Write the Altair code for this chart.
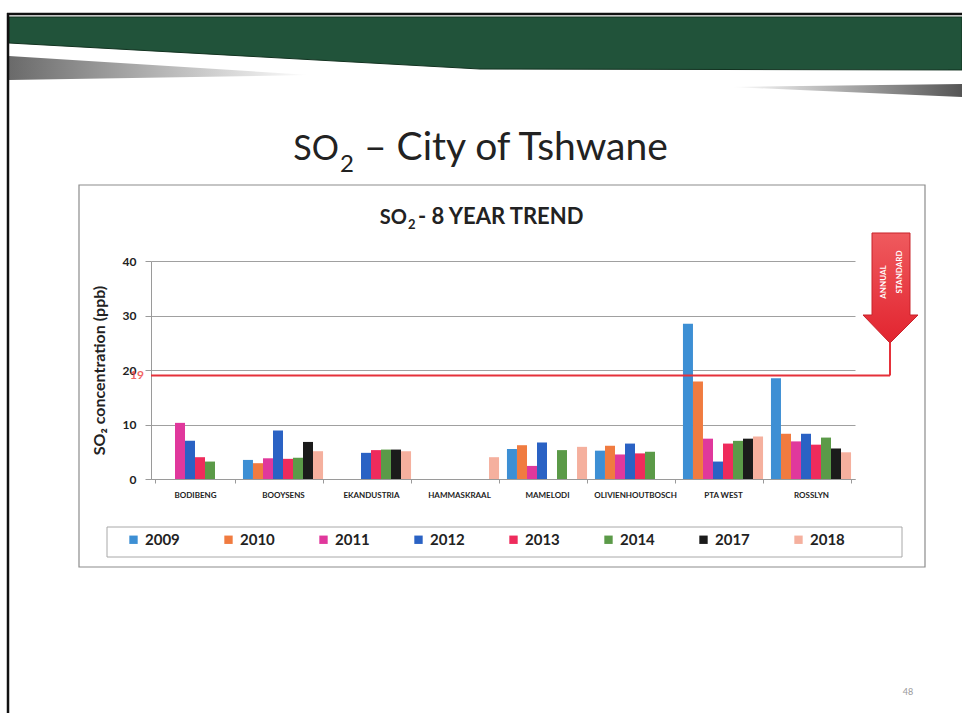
import altair as alt
import pandas as pd

# Monitoring stations and years
locations = ["BODIBENG", "BOOYSENS", "EKANDUSTRIA", "HAMMASKRAAL",
             "MAMELODI", "OLIVIENHOUTBOSCH", "PTA WEST", "ROSSLYN"]
years = ["2009", "2010", "2011", "2012", "2013", "2014", "2017", "2018"]

# Annual mean SO2 (ppb) per station; None = no data for that year
so2_2009 = [None, 3.5, None, None, 5.5, 5.2, 28.5, 18.5]
so2_2010 = [None, 2.9, None, None, 6.2, 6.1, 17.9, 8.3]
so2_2011 = [10.3, 3.8, None, None, 2.4, 4.5, 7.4, 6.9]
so2_2012 = [7.0, 8.9, 4.8, None, 6.7, 6.5, 3.2, 8.3]
so2_2013 = [4.0, 3.7, 5.3, None, None, 4.7, 6.5, 6.3]
so2_2014 = [3.2, 3.9, 5.4, None, 5.3, 5.0, 7.0, 7.6]
so2_2017 = [None, 6.8, 5.4, None, None, None, 7.4, 5.6]
so2_2018 = [None, 5.1, 5.1, 4.0, 5.9, None, 7.8, 4.9]

annual_standard = 19

year_colors = ["#3d8fd4", "#f07b40", "#e0389c", "#2a62c4",
               "#ee2b5c", "#5b9a48", "#1b1b1b", "#f5b09e"]

series = [so2_2009, so2_2010, so2_2011, so2_2012,
          so2_2013, so2_2014, so2_2017, so2_2018]
rows = []
for yr, vals in zip(years, series):
    for loc, v in zip(locations, vals):
        if v is not None:
            rows.append({"Location": loc, "Year": yr, "SO2": v})
df = pd.DataFrame(rows)
one = pd.DataFrame({"k": [0]})

FONT = "Lato"
# plot-area origin on the page
OX, OY = 151, 261


def px(x):
    return x - OX


def py(y):
    return y - OY


def shape(path_pts, cx, cy, half):
    pts = ["%s%.4f,%.4f" % ("M" if i == 0 else "L", (x - cx) / half, (y - cy) / half)
           for i, (x, y) in enumerate(path_pts)]
    return "".join(pts) + "Z"


def deco_shape(pts, cx, cy, half, **kw):
    return alt.Chart(one).mark_point(
        shape=shape(pts, cx, cy, half), size=(2 * half) ** 2,
        filled=True, opacity=1, **kw
    ).encode(x=alt.value(px(cx)), y=alt.value(py(cy)))


def label(text, x, y, **kw):
    return alt.Chart(one).mark_text(text=text, font=FONT, **kw).encode(
        x=alt.value(px(x)), y=alt.value(py(y)))


# --- slide furniture ---
green_band = deco_shape([(9, 17), (962, 17), (962, 70), (480, 69), (9, 43)],
                        485, 42, 480, fill="#21533a", stroke="#123220", strokeWidth=1)
swoosh_left = deco_shape([(9, 56), (310, 75), (9, 80)], 160, 68, 160,
                         fill=alt.LinearGradient(gradient="linear", x1=0, x2=1, y1=0, y2=0,
                                                 stops=[alt.GradientStop(color="#6a6a6a", offset=0),
                                                        alt.GradientStop(color="#ffffff", offset=1)]))
swoosh_right = deco_shape([(730, 87), (962, 84), (962, 97), (800, 90)], 846, 90, 116,
                          fill=alt.LinearGradient(gradient="linear", x1=0, x2=1, y1=0, y2=0,
                                                  stops=[alt.GradientStop(color="#ffffff", offset=0),
                                                         alt.GradientStop(color="#555555", offset=1)]))
top_line = alt.Chart(one).mark_rule(color="#111111", strokeWidth=2.5).encode(
    x=alt.value(px(7)), x2=alt.value(px(962)), y=alt.value(py(14)))
left_line = alt.Chart(one).mark_rule(color="#111111", strokeWidth=2.5).encode(
    x=alt.value(px(8)), y=alt.value(py(13)), y2=alt.value(py(713)))

chart_frame = alt.Chart(one).mark_rect(fill="transparent", stroke="#8c8c8c", strokeWidth=1.2).encode(
    x=alt.value(px(79)), x2=alt.value(px(925)), y=alt.value(py(185)), y2=alt.value(py(567)))
legend_frame = alt.Chart(one).mark_rect(fill="transparent", stroke="#a8a8a8", strokeWidth=1).encode(
    x=alt.value(px(107)), x2=alt.value(px(902)), y=alt.value(py(527)), y2=alt.value(py(557)))

# slide title with subscript
title_parts = [
    label("SO", 339, 160, fontSize=34, align="right", baseline="alphabetic", color="#222222"),
    label("2", 340, 172, fontSize=24, align="left", baseline="alphabetic", color="#222222"),
    label("\u2013 City of Tshwane", 364, 160, fontSize=39, align="left",
          baseline="alphabetic", color="#222222"),
]
# chart title with subscript
chart_title_parts = [
    label("SO", 407, 224, fontSize=20, fontWeight="bold", align="right",
          baseline="alphabetic", color="#222222"),
    label("2", 408, 229, fontSize=13, fontWeight="bold", align="left",
          baseline="alphabetic", color="#222222"),
    label("- 8 YEAR TREND", 418, 224, fontSize=22, fontWeight="bold", align="left",
          baseline="alphabetic", color="#222222"),
]
page_no = label("48", 908, 692, fontSize=9, color="#9a9a9a")

# --- data marks ---
bars = alt.Chart(df).mark_bar().encode(
    x=alt.X("Location:N", sort=locations,
            scale=alt.Scale(paddingInner=0.09, paddingOuter=0.045),
            axis=alt.Axis(title=None, labelAngle=0, labelFont=FONT, labelFontSize=8,
                          labelFontWeight="bold", labelColor="#222222", labelPadding=8,
                          domainColor="#9a9a9a", tickColor="#9a9a9a", tickSize=4,
                          tickBand="extent", grid=False)),
    xOffset=alt.XOffset("Year:N", sort=years, scale=alt.Scale(paddingInner=0, paddingOuter=0)),
    y=alt.Y("SO2:Q", scale=alt.Scale(domain=[0, 40], nice=False),
            axis=alt.Axis(title="SO\u2082 concentration (ppb)", values=[0, 10, 20, 30, 40],
                          labelFont=FONT, labelFontSize=12, labelFontWeight="bold",
                          labelColor="#222222", labelPadding=9, tickSize=6,
                          tickColor="#9a9a9a", domainColor="#9a9a9a",
                          gridColor="#a0a0a0", gridWidth=1,
                          titleFont=FONT, titleFontSize=16, titleFontWeight="bold",
                          titleColor="#222222", titlePadding=15)),
    color=alt.Color("Year:N", sort=years, scale=alt.Scale(domain=years, range=year_colors),
                    legend=alt.Legend(title=None, orient="none", direction="horizontal",
                                      legendX=px(126), legendY=py(532), columns=8,
                                      symbolType="square", symbolSize=70, symbolStrokeWidth=0,
                                      labelFont=FONT, labelFontSize=15, labelFontWeight="bold",
                                      labelColor="#222222", labelOffset=4, columnPadding=41)),
)

red = "#e5313a"
std_line = alt.Chart(one).mark_rule(color=red, strokeWidth=2).encode(
    x=alt.value(0), x2=alt.value(px(890)), y=alt.datum(annual_standard))
std_drop = alt.Chart(one).mark_rule(color=red, strokeWidth=2).encode(
    x=alt.value(px(890)), y=alt.datum(annual_standard), y2=alt.value(py(340)))
std_label = alt.Chart(one).mark_text(text=str(annual_standard), font=FONT, fontSize=12,
                                     fontWeight="bold", color="#ee4b4b", align="right",
                                     opacity=0.85).encode(
    x=alt.value(-7), y=alt.datum(annual_standard))

arrow = deco_shape([(872, 233), (910, 233), (910, 315), (918, 315), (890, 343),
                    (863, 315), (872, 315)], 890, 288, 60,
                   fill=alt.LinearGradient(gradient="linear", x1=0, x2=0, y1=0, y2=1,
                                           stops=[alt.GradientStop(color="#ef5a5e", offset=0),
                                                  alt.GradientStop(color="#e2242f", offset=1)]),
                   stroke="#c8232b", strokeWidth=1)
arrow_text = [
    label("ANNUAL", 884, 282, fontSize=8, fontWeight="bold", color="white", angle=270),
    label("STANDARD", 900, 272, fontSize=8, fontWeight="bold", color="white", angle=270),
]

chart = alt.layer(
    chart_frame, legend_frame, green_band, swoosh_left, swoosh_right, top_line, left_line,
    *title_parts, *chart_title_parts, page_no,
    bars, std_line, std_drop, std_label, arrow, *arrow_text,
).properties(
    width=704, height=218,
    autosize=alt.AutoSizeParams(type="none"),
    padding={"left": OX, "top": OY, "right": 962 - OX - 704, "bottom": 713 - OY - 218},
    background="white",
).configure_view(stroke=None)

chart.save("out.html", embed_options={"renderer": "svg", "actions": False})
